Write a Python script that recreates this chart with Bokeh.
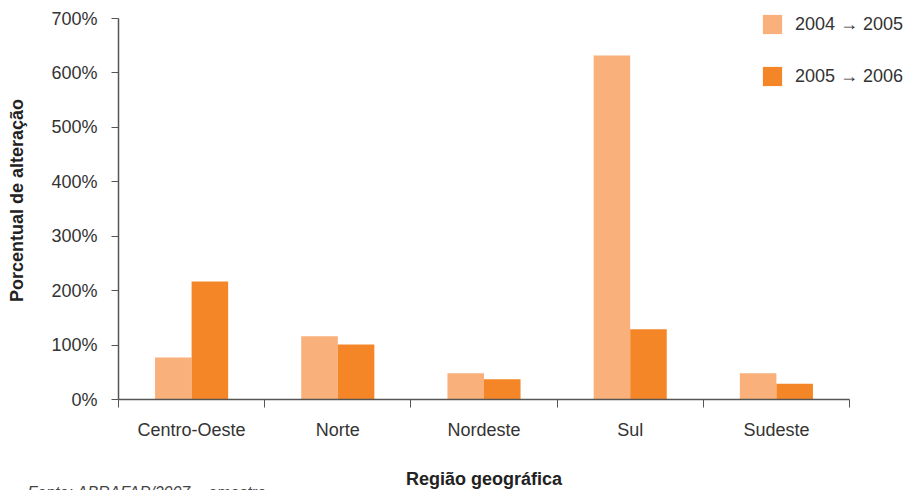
import numpy as np
from bokeh.plotting import figure
from bokeh.models import (ColumnDataSource, FixedTicker, PrintfTickFormatter,
                          Range1d, Legend, LegendItem, Label, LinearAxis)
from bokeh.transform import dodge
from bokeh.embed import file_html
from bokeh.resources import INLINE

categories = ["Centro-Oeste", "Norte", "Nordeste", "Sul", "Sudeste"]
series_names = ["2004 \u2192 2005", "2005 \u2192 2006"]
v_2004_2005 = [77, 116, 48, 632, 48]
v_2005_2006 = [217, 101, 37, 129, 29]
y_ticks = [0, 100, 200, 300, 400, 500, 600, 700]

light = "#F9B07A"
dark = "#F48627"
FONT = "Liberation Sans"
W, H = 920, 490

# pixel layout of the plotting area inside the canvas
PX_LEFT, PX_RIGHT, PX_TOP, PX_BOTTOM = 118, 849, 18, 399
n = len(categories)
y_max = y_ticks[-1]
xs = (PX_RIGHT - PX_LEFT) / n
ys = (PX_BOTTOM - PX_TOP) / y_max
x_range = Range1d(-PX_LEFT / xs, n + (W - PX_RIGHT) / xs)
y_range = Range1d(-(H - PX_BOTTOM) / ys, y_max + PX_TOP / ys)

xpos = np.arange(n) + 0.5
src = ColumnDataSource(dict(x=xpos, a=v_2004_2005, b=v_2005_2006, cat=categories))

p = figure(width=W, height=H, output_backend="svg", toolbar_location=None,
           x_range=x_range, y_range=y_range,
           x_axis_location=None, y_axis_location=None,
           min_border=0)
p.outline_line_color = None
p.grid.visible = False
p.background_fill_color = "white"

r1 = p.vbar(x=dodge("x", -0.125), top="a", width=0.25, source=src,
            fill_color=light, line_color=None)
r2 = p.vbar(x=dodge("x", 0.125), top="b", width=0.25, source=src,
            fill_color=dark, line_color=None)

AX = "#555555"

xa = LinearAxis(fixed_location=0, bounds=(0, n))
xa.ticker = FixedTicker(ticks=list(xpos), minor_ticks=list(range(n + 1)))
xa.major_label_overrides = {float(x): c for x, c in zip(xpos, categories)}
xa.major_tick_line_color = None
xa.major_tick_out = 8
xa.major_tick_in = 0
xa.minor_tick_line_color = AX
xa.minor_tick_out = 8
xa.minor_tick_in = 0
xa.axis_line_color = AX
xa.axis_line_width = 1.5
xa.major_label_text_font = FONT
xa.major_label_text_font_size = "18px"
xa.major_label_text_color = "#333333"
xa.major_label_standoff = 12
xa.axis_label = "Região geográfica"
xa.axis_label_text_font = FONT
xa.axis_label_text_font_style = "bold"
xa.axis_label_text_font_size = "18px"
xa.axis_label_text_color = "#222222"
xa.axis_label_standoff = 26
p.add_layout(xa, "below")

ya = LinearAxis(fixed_location=0, bounds=(0, y_max))
ya.ticker = FixedTicker(ticks=y_ticks, minor_ticks=[])
ya.formatter = PrintfTickFormatter(format="%d%%")
ya.major_tick_line_color = AX
ya.major_tick_out = 7
ya.major_tick_in = 0
ya.minor_tick_line_color = None
ya.axis_line_color = AX
ya.axis_line_width = 1.5
ya.major_label_text_font = FONT
ya.major_label_text_font_size = "18px"
ya.major_label_text_color = "#333333"
ya.major_label_standoff = 14
p.add_layout(ya, "left")

y_title = Label(x=16, y=H - 200, x_units="screen", y_units="screen",
                text="Porcentual de alteração", angle=np.pi / 2,
                text_font=FONT, text_font_style="bold", text_font_size="18px",
                text_color="#222222", text_align="center", text_baseline="middle")
p.add_layout(y_title)

legend = Legend(items=[LegendItem(label=series_names[0], renderers=[r1]),
                       LegendItem(label=series_names[1], renderers=[r2])],
                location=(760, H - 88), orientation="vertical",
                glyph_width=24, glyph_height=24, spacing=28,
                label_standoff=11, padding=0, margin=0,
                border_line_color=None, background_fill_alpha=0,
                label_text_font=FONT, label_text_font_size="18px",
                label_text_color="#333333")
p.add_layout(legend, "center")

src_label = Label(x=27, y=H - 483, x_units="screen", y_units="screen",
                  text="Fonte: ABRAFAP/2007 \u2013 amostra",
                  text_font=FONT, text_font_style="italic", text_font_size="16px",
                  text_color="#444444", text_baseline="top", text_align="left")
p.add_layout(src_label)

open("out.html", "w").write(file_html(p, INLINE))
